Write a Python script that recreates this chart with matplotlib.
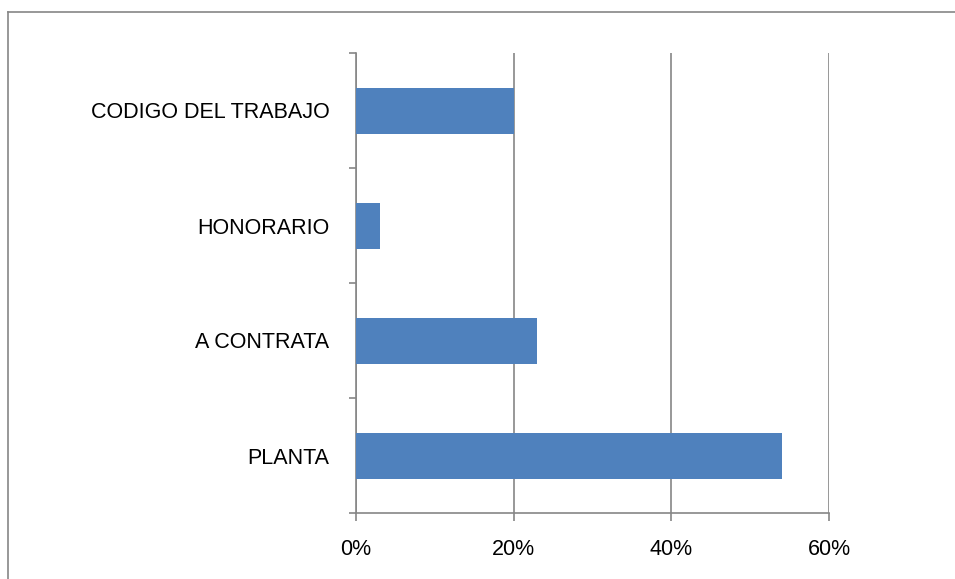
import matplotlib.pyplot as plt
from matplotlib.lines import Line2D
from matplotlib.ticker import FixedLocator, PercentFormatter

categories = ["PLANTA", "A CONTRATA", "HONORARIO", "CODIGO DEL TRABAJO"]
values = [54, 23, 3, 20]
xticks = [0, 20, 40, 60]

grey = "#868686"
plt.rcParams["font.family"] = ["Liberation Sans", "DejaVu Sans"]

fig = plt.figure(figsize=(9.55, 5.79), dpi=100)
ax = fig.add_axes([356 / 955, 1 - 513 / 579, 473 / 955, 460 / 579])

pos = list(range(len(categories)))
ax.barh(pos, values, height=0.4, color="#4F81BD", zorder=3)

ax.set_xlim(0, 60)
ax.set_ylim(-0.5, len(categories) - 0.5)
ax.set_xticks(xticks)
ax.xaxis.set_major_formatter(PercentFormatter(decimals=0))
ax.set_yticks(pos)
ax.set_yticklabels(categories)
ax.yaxis.set_minor_locator(FixedLocator([p - 0.5 for p in range(len(categories) + 1)]))

ax.tick_params(axis="y", which="major", length=0, pad=19, labelsize=15.5)
ax.tick_params(axis="y", which="minor", length=5, width=1.2, color=grey, direction="out")
ax.tick_params(axis="x", length=6, width=1.2, color=grey, pad=12.5, labelsize=15.5)

ax.grid(axis="x", color=grey, linewidth=1.2, zorder=0)
for s in ["top", "right"]:
    ax.spines[s].set_visible(False)
for s in ["left", "bottom"]:
    ax.spines[s].set_color(grey)
    ax.spines[s].set_linewidth(1.2)

# outer chart border (cut off at right and bottom)
fig.add_artist(Line2D([8 / 955, 8 / 955], [0, 1 - 12 / 579], color=grey, lw=1.2))
fig.add_artist(Line2D([8 / 955, 1], [1 - 12 / 579, 1 - 12 / 579], color=grey, lw=1.2))

fig.savefig("out.png", dpi=100)
